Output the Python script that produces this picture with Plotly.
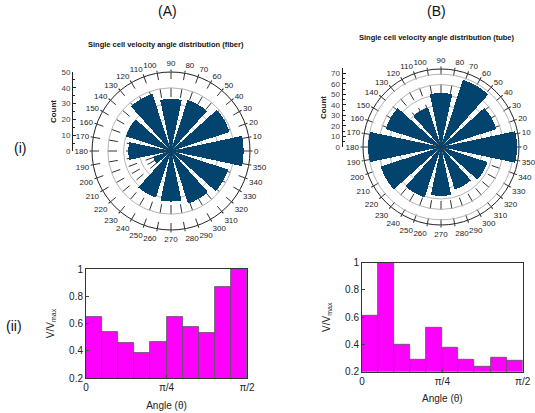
import math

import plotly.graph_objects as go

# polar histograms (counts per 30 degree bin, bin centres)
bin_angles = [0, 30, 60, 90, 120, 150, 180, 210, 240, 270, 300, 330]
fiber_counts = [46, 39, 34, 33, 38, 30, 27, 12, 31, 32, 35, 38]
tube_counts = [73, 56, 68, 52, 40, 56, 70, 61, 51, 47, 43, 47]

# normalised speed vs angle, 10 bins over [0, pi/2]
fiber_speed = [0.646, 0.537, 0.459, 0.385, 0.466, 0.646, 0.573, 0.532, 0.871, 1.0]
tube_speed = [0.608, 1.0, 0.396, 0.286, 0.525, 0.374, 0.290, 0.239, 0.305, 0.278]

theta_ticks = list(range(0, 360, 10))
x_tick_vals = [0, math.pi / 4, math.pi / 2]
x_tick_text = ["0", "π/4", "π/2"]

W, H = 535, 413
FONT = "Liberation Sans"
NAVY = "#02446d"


def px_x(x):
    return x / W


def px_y(y):
    return 1 - y / H


fig = go.Figure()

# --- polar panels ---
polar_specs = [
    ("polar", fiber_counts, 50, (171, 151), 79),
    ("polar2", tube_counts, 75, (441, 147), 78),
]
for name, counts, rmax, (cx, cy), R in polar_specs:
    fig.add_trace(
        go.Barpolar(
            r=counts,
            theta=bin_angles,
            width=[24] * len(bin_angles),
            marker={"color": NAVY, "line": {"width": 0}},
            subplot=name,
            showlegend=False,
        )
    )
    fig.layout[name] = dict(
        domain={"x": [px_x(cx - R), px_x(cx + R)], "y": [px_y(cy + R), px_y(cy - R)]},
        bgcolor="white",
        radialaxis={
            "range": [0, rmax],
            "tickvals": list(range(10, rmax + 1, 10)),
            "showticklabels": False,
            "ticks": "",
            "showline": False,
            "gridcolor": "#b4b4b4",
            "gridwidth": 1,
        },
        angularaxis={
            "tickmode": "array",
            "tickvals": theta_ticks,
            "ticktext": [str(t) for t in theta_ticks],
            "tickfont": {"family": FONT, "size": 8, "color": "#222"},
            "ticks": "outside",
            "ticklen": 2,
            "tickcolor": "#222",
            "showline": True,
            "linecolor": "#222",
            "linewidth": 1,
            "gridcolor": "#333",
            "griddash": "dash",
            "gridwidth": 0.8,
            "rotation": 0,
            "direction": "counterclockwise",
        },
    )

# --- count axes beside the polar plots ---
count_axes = [
    ("x3", "y3", 50, 73, 151, 79),
    ("x4", "y4", 75, 342.5, 147, 79),
]
for xa, ya, rmax, axx, cy, rr in count_axes:
    fig.add_trace(
        go.Scatter(x=[0], y=[0], xaxis=xa, yaxis=ya, mode="markers",
                   marker={"opacity": 0}, showlegend=False, hoverinfo="skip")
    )
    n = xa[1:]
    fig.layout["xaxis" + n] = dict(domain=[px_x(axx), px_x(axx + 2)], visible=False,
                                  anchor="y" + n, automargin=False)
    fig.layout["yaxis" + n] = dict(
        domain=[px_y(cy), px_y(cy - rr)],
        range=[0, rmax],
        anchor="x" + n,
        automargin=False,
        showline=True,
        linecolor="#222",
        ticks="inside",
        ticklen=3,
        tickcolor="#222",
        dtick=10,
        minor={"dtick": 5, "ticks": "inside", "ticklen": 2, "tickcolor": "#222"},
        showgrid=False,
        zeroline=False,
        tickfont={"family": FONT, "size": 8, "color": "#444"},
        title={"text": "<b>Count</b>", "font": {"family": FONT, "size": 8, "color": "#222"},
               "standoff": 3},
    )

# --- bar charts ---
bar_specs = [
    ("x", "y", fiber_speed, (86, 247), (269, 378)),
    ("x2", "y2", tube_speed, (362, 522.7), (262.7, 371.7)),
]
for xa, ya, speed, (x0, x1), (y0, y1) in bar_specs:
    step = (math.pi / 2) / len(speed)
    centers = [(i + 0.5) * step for i in range(len(speed))]
    fig.add_trace(
        go.Bar(
            x=centers,
            y=speed,
            width=step,
            marker={"color": "#ff00ff", "line": {"color": "#555", "width": 0.8}},
            xaxis=xa,
            yaxis=ya,
            showlegend=False,
        )
    )
    n = "" if xa == "x" else xa[1:]
    fig.layout["xaxis" + n] = dict(
        domain=[px_x(x0), px_x(x1)],
        range=[0, math.pi / 2],
        anchor=ya,
        automargin=False,
        tickvals=x_tick_vals,
        ticktext=x_tick_text,
        ticks="inside",
        ticklen=3,
        showline=True,
        mirror=True,
        linecolor="#333",
        showgrid=False,
        zeroline=False,
        tickfont={"family": FONT, "size": 10, "color": "#222"},
        title={"text": "Angle (θ)", "font": {"family": FONT, "size": 10, "color": "#222"},
               "standoff": 9},
    )
    fig.layout["yaxis" + n] = dict(
        domain=[px_y(y1), px_y(y0)],
        range=[0.2, 1.0],
        anchor=xa,
        automargin=False,
        tickvals=[0.2, 0.4, 0.6, 0.8, 1.0],
        ticktext=["0.2", "0.4", "0.6", "0.8", "1"],
        ticks="inside",
        ticklen=3,
        showline=True,
        mirror=True,
        linecolor="#333",
        showgrid=False,
        zeroline=False,
        tickfont={"family": FONT, "size": 10, "color": "#222"},
        title={"text": "V/V<sub>max</sub>", "font": {"family": FONT, "size": 10, "color": "#222"},
               "standoff": 12},
    )

# --- panel labels and titles ---
labels = [
    ("(A)", 167, 11, 14, False),
    ("(B)", 436, 11, 14, False),
    ("(i)", 20, 148, 14, False),
    ("(ii)", 14, 326, 14, False),
    ("Single cell velocity angle distribution (fiber)", 166, 44, 7.5, True),
    ("Single cell velocity angle distribution (tube)", 437, 38, 7.5, True),
]
for text, x, y, size, bold in labels:
    fig.add_annotation(
        x=px_x(x), y=px_y(y), xref="paper", yref="paper",
        text=f"<b>{text}</b>" if bold else text,
        showarrow=False,
        font={"family": FONT, "size": size, "color": "#111"},
        xanchor="center", yanchor="middle",
    )

fig.update_layout(
    width=W,
    height=H,
    margin={"l": 0, "r": 0, "t": 0, "b": 0},
    paper_bgcolor="white",
    plot_bgcolor="white",
    bargap=0,
)

# drop the page's default body margin so the figure sits at the window origin
fig.write_html(
    "out.html",
    config={"displayModeBar": False},
    post_script="document.body.style.margin = '0';",
)
